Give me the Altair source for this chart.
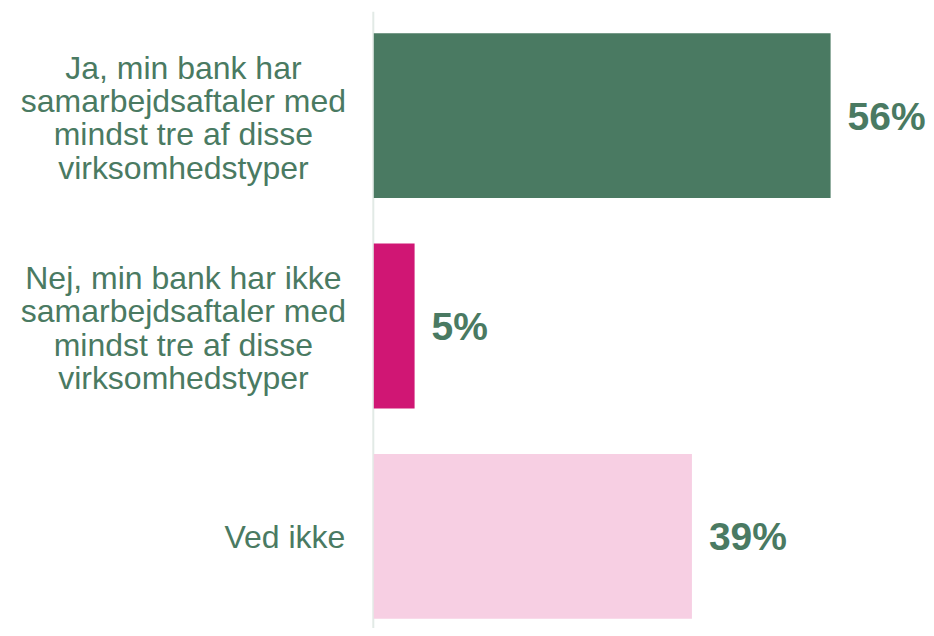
import altair as alt
import pandas as pd

categories = [
    "Ja, min bank har|samarbejdsaftaler med|mindst tre af disse|virksomhedstyper",
    "Nej, min bank har ikke|samarbejdsaftaler med|mindst tre af disse|virksomhedstyper",
    "Ved ikke",
]
values = [0.56, 0.05, 0.39]
labels = ["56%", "5%", "39%"]
colors = ["#4a7a62", "#d01674", "#f7cfe3"]

df = pd.DataFrame({"cat": categories, "val": values, "lab": labels, "col": colors})

GREEN = "#4a7a62"
single = "datum.value == 'Ved ikke'"

y_enc = alt.Y(
    "cat:N",
    sort=categories,
    scale=alt.Scale(range=[0, 630], paddingInner=0.216, paddingOuter=0.1047),
    axis=alt.Axis(
        title=None,
        ticks=False,
        domainColor="#e2eae6",
        domainWidth=2,
        offset=1,
        labelExpr="split(datum.label, '|')",
        labelFont="Liberation Sans",
        labelFontSize=32,
        labelLineHeight=33.3,
        labelColor=GREEN,
        labelLimit=500,
        labelBaseline="middle",
        labelAlign={"condition": {"test": single, "value": "right"}, "value": "center"},
        labelPadding={"condition": {"test": single, "value": 28}, "value": 190},
        labelOffset={"condition": {"test": single, "value": 2}, "value": -47},
    ),
)

x_enc = alt.X("val:Q", scale=alt.Scale(domain=[0, 0.65], nice=False), axis=None)

bars = alt.Chart(df).mark_bar().encode(
    x=x_enc,
    y=y_enc,
    color=alt.Color("col:N", scale=None),
)

text = alt.Chart(df).mark_text(
    align="left",
    baseline="middle",
    dx=17,
    dy=2,
    font="Liberation Sans",
    fontSize=39,
    fontWeight="bold",
    color=GREEN,
).encode(
    x=x_enc,
    y=alt.Y("cat:N", sort=categories),
    text="lab:N",
)

chart = (
    alt.layer(bars, text)
    .properties(
        width=530.5,
        height=617,
        background="white",
        autosize=alt.AutoSizeParams(type="none"),
        padding={"left": 366, "top": 3, "right": 22, "bottom": 0},
    )
    .configure_view(stroke="transparent", strokeWidth=0)
)

chart.save("out.html", embed_options={"renderer": "svg", "actions": False})
